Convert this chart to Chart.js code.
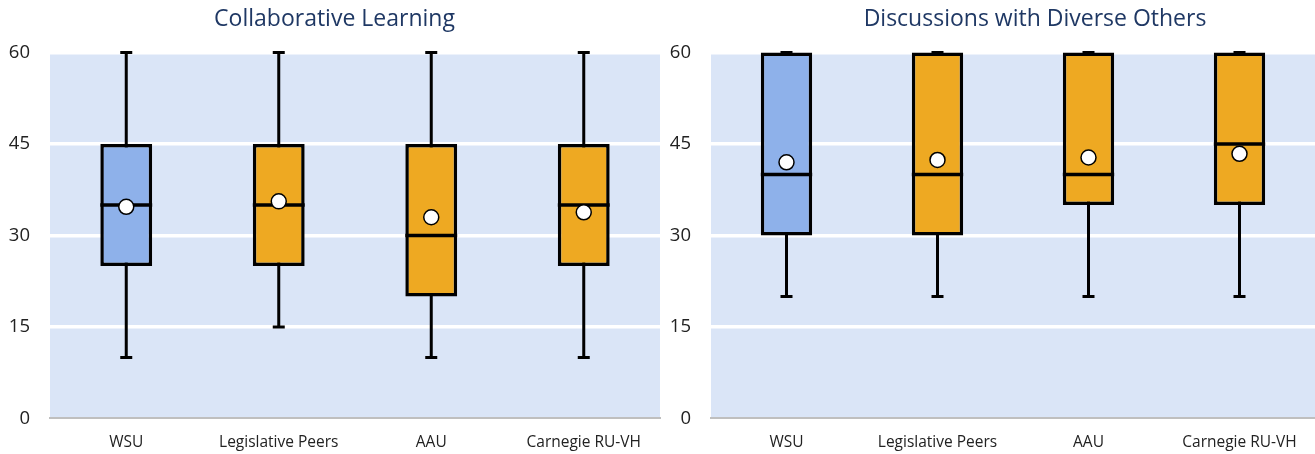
<!DOCTYPE html>
<html>
<head>
<meta charset="utf-8">
<script src="https://cdn.jsdelivr.net/npm/chart.js@4"></script>
<style>
  html, body { margin: 0; padding: 0; background: #fff; overflow: hidden; }
  #wrap { position: relative; width: 1315px; height: 454px; overflow: hidden; }
  #collabChart { position: absolute; left: 0; top: 0; }
  #diverseChart { position: absolute; left: 669px; top: 0; }
</style>
</head>
<body>
<div id="wrap">
  <canvas id="collabChart" width="669" height="454"></canvas>
  <canvas id="diverseChart" width="732" height="454"></canvas>
</div>
<script>
// Categories and box plot values
const categories = ['WSU', 'Legislative Peers', 'AAU', 'Carnegie RU-VH'];
const yTicks = [0, 15, 30, 45, 60];

const collabMin = [10, 15, 10, 10];
const collabQ1 = [25, 25, 20, 25];
const collabMedian = [35, 35, 30, 35];
const collabQ3 = [45, 45, 45, 45];
const collabMax = [60, 60, 60, 60];
const collabMean = [34.7, 35.6, 33.0, 33.8];

const diverseMin = [20, 20, 20, 20];
const diverseQ1 = [30, 30, 35, 35];
const diverseMedian = [40, 40, 40, 45];
const diverseQ3 = [60, 60, 60, 60];
const diverseMax = [60, 60, 60, 60];
const diverseMean = [42.0, 42.4, 42.8, 43.4];

const boxColors = ['#8EB1EA', '#EEA922', '#EEA922', '#EEA922'];
const font = "'Open Sans', 'Noto Sans', sans-serif";

// light blue plot background
const plotBackground = {
    id: 'plotBackground',
    beforeDraw(chart) {
        const { ctx, chartArea: a } = chart;
        ctx.save();
        ctx.fillStyle = '#DAE5F7';
        ctx.fillRect(a.left, a.top, a.right - a.left, a.bottom - a.top);
        ctx.restore();
    }
};

// whiskers behind the boxes, median line on top of the boxes
const boxPlot = {
    id: 'boxPlot',
    beforeDatasetsDraw(chart, args, opts) {
        const { ctx, scales: { x, y } } = chart;
        ctx.save();
        ctx.strokeStyle = '#000';
        ctx.lineWidth = 3;
        opts.min.forEach((v, i) => {
            const px = x.getPixelForValue(i);
            const yLo = y.getPixelForValue(v);
            const yHi = y.getPixelForValue(opts.max[i]);
            ctx.beginPath();
            ctx.moveTo(px, yLo);
            ctx.lineTo(px, yHi);
            ctx.moveTo(px - 6, yLo);
            ctx.lineTo(px + 6, yLo);
            ctx.moveTo(px - 6, yHi);
            ctx.lineTo(px + 6, yHi);
            ctx.stroke();
        });
        ctx.restore();
    },
    afterDatasetDraw(chart, args, opts) {
        if (args.index !== 0) return;
        const { ctx, scales: { y } } = chart;
        ctx.save();
        ctx.strokeStyle = '#000';
        ctx.lineWidth = 3.5;
        args.meta.data.forEach((bar, i) => {
            const py = y.getPixelForValue(opts.median[i]);
            ctx.beginPath();
            ctx.moveTo(bar.x - bar.width / 2, py);
            ctx.lineTo(bar.x + bar.width / 2, py);
            ctx.stroke();
        });
        ctx.restore();
    }
};

function makeBoxChart(id, title, mins, q1, median, q3, maxs, means, axisWidth, gapRight) {
    return new Chart(document.getElementById(id), {
        data: {
            labels: categories,
            datasets: [{
                type: 'bar',
                data: q1.map((v, i) => [v, q3[i]]),
                backgroundColor: boxColors,
                borderColor: '#000',
                borderWidth: 3.5,
                borderSkipped: false,
                categoryPercentage: 1,
                barPercentage: 0.34,
                clip: false,
                order: 2
            }, {
                type: 'line',
                data: means,
                showLine: false,
                pointRadius: 7.5,
                pointHoverRadius: 7.5,
                pointBackgroundColor: '#fff',
                pointBorderColor: '#000',
                pointBorderWidth: 1.5,
                clip: false,
                order: 1
            }]
        },
        options: {
            responsive: false,
            animation: false,
            layout: { padding: { bottom: -13 } },
            plugins: {
                legend: { display: false },
                tooltip: { enabled: false },
                title: {
                    display: true,
                    text: title,
                    color: '#1F3864',
                    font: { family: font, size: 23, weight: 'normal' },
                    padding: { top: 6, bottom: 19 }
                },
                boxPlot: { min: mins, max: maxs, median: median }
            },
            scales: {
                x: {
                    grid: { display: false, drawTicks: false },
                    border: { display: true, color: '#BFBFBF', width: 2 },
                    ticks: { color: '#222', font: { family: font, size: 15.5 }, padding: 15 }
                },
                y: {
                    min: 0,
                    max: 60,
                    afterBuildTicks: axis => { axis.ticks = yTicks.map(v => ({ value: v })); },
                    afterFit: axis => { axis.width = axisWidth; },
                    grid: { color: '#fff', lineWidth: 3.5, drawTicks: false },
                    border: { display: false },
                    ticks: { color: '#222', font: { family: font, size: 18.5 }, padding: 20 }
                },
                // empty spacer on the right so the title stays centred on the whole panel
                gap: {
                    position: 'right',
                    grid: { display: false, drawTicks: false },
                    border: { display: false },
                    ticks: { display: false },
                    afterFit: axis => { axis.width = gapRight; }
                }
            }
        },
        plugins: [plotBackground, boxPlot]
    });
}

makeBoxChart('collabChart', 'Collaborative Learning',
    collabMin, collabQ1, collabMedian, collabQ3, collabMax, collabMean, 50, 8);
makeBoxChart('diverseChart', 'Discussions with Diverse Others',
    diverseMin, diverseQ1, diverseMedian, diverseQ3, diverseMax, diverseMean, 42, 86);
</script>
</body>
</html>
